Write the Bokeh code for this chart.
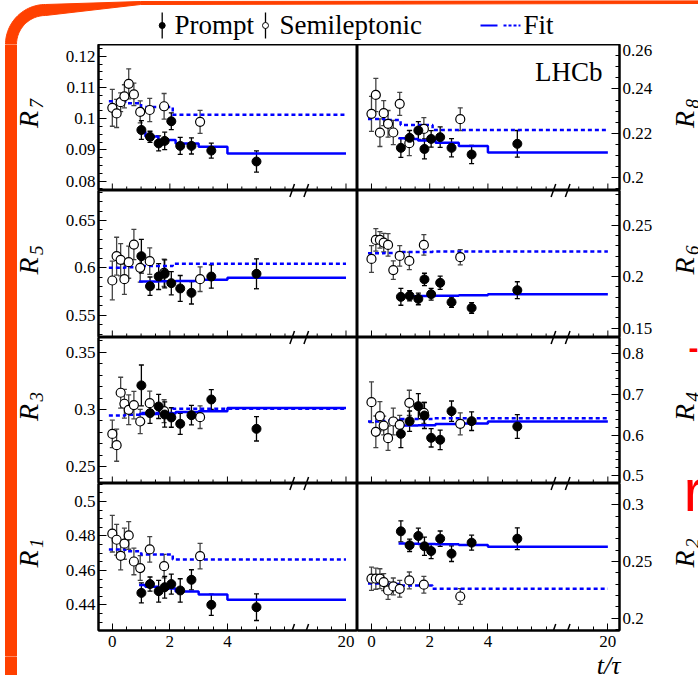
import numpy as np
from bokeh.plotting import figure
from bokeh.layouts import column, row
from bokeh.models import (Range1d, LinearAxis, FixedTicker, Whisker,
                          ColumnDataSource, TeeHead)
from bokeh.core.properties import value
from bokeh.embed import file_html
from bokeh.resources import INLINE

# ------------------------------------------------------------------ data
# x positions on the (broken) t/tau axis; "20" sits at 8.12 after the break
X_SEMI = [0.0, 0.15, 0.29, 0.42, 0.57, 0.75, 0.97, 1.30, 1.80, 3.05]
X_PROMPT = [1.01, 1.31, 1.61, 1.82, 2.05, 2.36, 2.75, 3.44, 5.01]
SEMI_FIT_EDGES = [-0.12, 0.45, 1.0, 2.1, 8.12]
PROMPT_FIT_EDGES = [0.93, 1.15, 1.6, 2.2, 3.0, 4.0, 8.12]
X_TICKS = [0, 2, 4, 8.12]
X_TICK_LABELS = ["0", "2", "4", "20"]
X_MINOR = [0.5, 1, 1.5, 2.5, 3, 3.5, 4.5, 5, 5.5, 6, 7.12, 7.62]
X_BREAKS = [6.25, 6.74]

R7_SEMI = [0.1035, 0.1017, 0.1053, 0.1072, 0.1112, 0.1078, 0.1022, 0.1028, 0.1040, 0.0990]
R7_SEMI_ERR = [0.0059, 0.0045, 0.0030, 0.0037, 0.0048, 0.0036, 0.0035, 0.0037, 0.0041, 0.0037]
R7_PROMPT = [0.0964, 0.0942, 0.0921, 0.0929, 0.0992, 0.0913, 0.0913, 0.0898, 0.0863]
R7_PROMPT_ERR = [0.0030, 0.0018, 0.0024, 0.0028, 0.0027, 0.0027, 0.0026, 0.0024, 0.0034]
R7_SEMI_FIT = [0.1056, 0.1050, 0.1038, 0.1013]
R7_PROMPT_FIT = [0.0958, 0.0943, 0.0932, 0.0921, 0.0910, 0.0889]

R8_SEMI = [0.2288, 0.2373, 0.2203, 0.2291, 0.2243, 0.2204, 0.2333, 0.2156, 0.2220, 0.2264]
R8_SEMI_ERR = [0.0079, 0.0075, 0.0062, 0.0056, 0.0060, 0.0055, 0.0052, 0.0056, 0.0051, 0.0051]
R8_PROMPT = [0.2135, 0.2180, 0.2213, 0.2130, 0.2175, 0.2183, 0.2135, 0.2105, 0.2153]
R8_PROMPT_ERR = [0.0043, 0.0034, 0.0040, 0.0045, 0.0037, 0.0046, 0.0041, 0.0041, 0.0060]
R8_SEMI_FIT = [0.2265, 0.2260, 0.2238, 0.2215]
R8_PROMPT_FIT = [0.2178, 0.2175, 0.2168, 0.2158, 0.2143, 0.2114]

R5_SEMI = [0.5866, 0.6123, 0.6085, 0.5880, 0.6060, 0.6246, 0.6000, 0.6070, 0.5947, 0.5880]
R5_SEMI_ERR = [0.0204, 0.0200, 0.0170, 0.0160, 0.0170, 0.0160, 0.0150, 0.0140, 0.0144, 0.0130]
R5_PROMPT = [0.6123, 0.5806, 0.5908, 0.5937, 0.5838, 0.5782, 0.5736, 0.5908, 0.5937]
R5_PROMPT_ERR = [0.0178, 0.0097, 0.0137, 0.0148, 0.0123, 0.0137, 0.0118, 0.0123, 0.0158]
R5_SEMI_FIT = [0.6000, 0.6005, 0.6020, 0.6042]
R5_PROMPT_FIT = [0.5856, 0.5856, 0.5858, 0.5862, 0.5873, 0.5894]

R6_SEMI = [0.2173, 0.2359, 0.2359, 0.2333, 0.2310, 0.2065, 0.2203, 0.2154, 0.2310, 0.2190]
R6_SEMI_ERR = [0.0130, 0.0110, 0.0080, 0.0090, 0.0110, 0.0090, 0.0100, 0.0085, 0.0100, 0.0074]
R6_PROMPT = [0.1804, 0.1814, 0.1784, 0.1974, 0.1830, 0.1941, 0.1752, 0.1696, 0.1869]
R6_PROMPT_ERR = [0.0082, 0.0050, 0.0057, 0.0060, 0.0057, 0.0065, 0.0050, 0.0052, 0.0082]
R6_SEMI_FIT = [0.2229, 0.2232, 0.2242, 0.2245]
R6_PROMPT_FIT = [0.1810, 0.1810, 0.1812, 0.1815, 0.1820, 0.1830]

R3_SEMI = [0.2787, 0.2688, 0.3146, 0.3050, 0.2997, 0.3038, 0.2895, 0.3055, 0.2985, 0.2933]
R3_SEMI_ERR = [0.0120, 0.0140, 0.0135, 0.0125, 0.0130, 0.0120, 0.0106, 0.0105, 0.0100, 0.0099]
R3_PROMPT = [0.3210, 0.2968, 0.3026, 0.2956, 0.2930, 0.2875, 0.2950, 0.3087, 0.2831]
R3_PROMPT_ERR = [0.0178, 0.0090, 0.0105, 0.0110, 0.0085, 0.0092, 0.0085, 0.0087, 0.0106]
R3_SEMI_FIT = [0.2948, 0.2955, 0.2970, 0.3006]
R3_PROMPT_FIT = [0.2960, 0.2960, 0.2965, 0.2977, 0.2985, 0.3012]

R4_SEMI = [0.6814, 0.6085, 0.6470, 0.6240, 0.5929, 0.6340, 0.6258, 0.6798, 0.6550, 0.6282]
R4_SEMI_ERR = [0.050, 0.039, 0.036, 0.023, 0.030, 0.033, 0.023, 0.031, 0.026, 0.027]
R4_PROMPT = [0.6036, 0.6348, 0.6717, 0.6487, 0.5938, 0.5889, 0.6593, 0.6348, 0.6217]
R4_PROMPT_ERR = [0.034, 0.025, 0.031, 0.032, 0.0225, 0.024, 0.025, 0.023, 0.029]
R4_SEMI_FIT = [0.634, 0.636, 0.640, 0.642]
R4_PROMPT_FIT = [0.624, 0.624, 0.625, 0.628, 0.629, 0.634]

R1_SEMI = [0.4813, 0.4778, 0.4685, 0.4755, 0.4803, 0.4652, 0.4614, 0.4722, 0.4625, 0.4683]
R1_SEMI_ERR = [0.0106, 0.0089, 0.0082, 0.0090, 0.0080, 0.0077, 0.0072, 0.0074, 0.0068, 0.0074]
R1_PROMPT = [0.4470, 0.4521, 0.4480, 0.4503, 0.4521, 0.4484, 0.4546, 0.4401, 0.4387]
R1_PROMPT_ERR = [0.0058, 0.0041, 0.0063, 0.0063, 0.0058, 0.0068, 0.0058, 0.0061, 0.0077]
R1_SEMI_FIT = [0.4722, 0.4712, 0.4693, 0.4664]
R1_PROMPT_FIT = [0.4515, 0.4505, 0.4495, 0.4478, 0.4461, 0.4430]

R2_SEMI = [0.2347, 0.2347, 0.2347, 0.2317, 0.2243, 0.2279, 0.2258, 0.2332, 0.2294, 0.2190]
R2_SEMI_ERR = [0.0103, 0.0093, 0.0088, 0.0074, 0.0078, 0.0074, 0.0074, 0.0074, 0.0074, 0.0069]
R2_PROMPT = [0.2765, 0.2642, 0.2724, 0.2633, 0.2591, 0.2700, 0.2568, 0.2665, 0.2700]
R2_PROMPT_ERR = [0.0093, 0.0055, 0.0069, 0.0081, 0.0066, 0.0068, 0.0069, 0.0066, 0.0096]
R2_SEMI_FIT = [0.2305, 0.2300, 0.2288, 0.2258]
R2_PROMPT_FIT = [0.2658, 0.2656, 0.2654, 0.2650, 0.2645, 0.2630]

# y axes: range, tick labels, minor step
R7_Y = (0.0770, 0.1238); R7_TICKS = ["0.08", "0.09", "0.1", "0.11", "0.12"]; R7_MINOR = 0.0025
R8_Y = (0.1943, 0.2600); R8_TICKS = ["0.2", "0.22", "0.24", "0.26"]; R8_MINOR = 0.005
R5_Y = (0.5264, 0.6817); R5_TICKS = ["0.55", "0.6", "0.65"]; R5_MINOR = 0.01
R6_Y = (0.1408, 0.2840); R6_TICKS = ["0.15", "0.2", "0.25"]; R6_MINOR = 0.01
R3_Y = (0.2354, 0.3628); R3_TICKS = ["0.25", "0.3", "0.35"]; R3_MINOR = 0.01
R4_Y = (0.4815, 0.8405); R4_TICKS = ["0.5", "0.6", "0.7", "0.8"]; R4_MINOR = 0.02
R1_Y = (0.4252, 0.5104); R1_TICKS = ["0.44", "0.46", "0.48", "0.5"]; R1_MINOR = 0.005
R2_Y = (0.1890, 0.3187); R2_TICKS = ["0.2", "0.25", "0.3"]; R2_MINOR = 0.01

LEFT_NAMES = ["7", "5", "3", "1"]
RIGHT_NAMES = ["8", "6", "4", "2"]

# ------------------------------------------------------------------ style / layout
SERIF = "Liberation Serif"
BLUE = "#0000ff"
ORANGE = "#ff4000"
PAGE_W, PAGE_H = 698, 675
HEAD_H, FOOT_H = 44, 19
FRAME_H = [146, 147, 146, 147]
BOTTOM_BORDER = 26
LSTRIP_W, RSTRIP_W = 55, 43
LBORDER, RBORDER = 43, 36
LFRAME_W, RFRAME_W = 259, 262
MID_H = PAGE_H - HEAD_H - FOOT_H


def py(y):
    """page pixel row -> strip/header/footer data y (upwards)"""
    return PAGE_H - y


def minor_list(lo, hi, step):
    k0 = int(np.ceil(lo / step - 1e-9))
    k1 = int(np.floor(hi / step + 1e-9))
    return [round(k * step, 6) for k in range(k0, k1 + 1)]


def no_grid(p):
    p.xgrid.visible = False
    p.ygrid.visible = False


def deco_fig(w, h, x0, y0):
    p = figure(frame_width=w, frame_height=h,
               x_range=Range1d(x0, x0 + w), y_range=Range1d(y0, y0 + h),
               x_axis_location=None, y_axis_location=None, toolbar_location=None,
               output_backend="svg", min_border=0, outline_line_color=None,
               background_fill_color="white", border_fill_color="white")
    no_grid(p)
    return p


def panel(semi, semi_err, prompt, prompt_err, semi_fit, prompt_fit,
          yr, ticks, minor, side, rowi):
    left = side == "left"
    bottom = rowi == 3
    fw = LFRAME_W if left else RFRAME_W
    fh = FRAME_H[rowi]
    lo, hi = yr
    p = figure(frame_width=fw, frame_height=fh,
               x_range=Range1d(-0.48, 8.52), y_range=Range1d(lo, hi),
               x_axis_location=None, y_axis_location=None,
               toolbar_location=None, output_backend="svg",
               min_border_left=LBORDER if left else 0,
               min_border_right=0 if left else RBORDER,
               min_border_top=0, min_border_bottom=BOTTOM_BORDER if bottom else 0,
               outline_line_color="black", outline_line_width=2,
               background_fill_color="white", border_fill_color="white")
    no_grid(p)

    ypx = (hi - lo) / fh
    if bottom:
        xa = LinearAxis(ticker=FixedTicker(ticks=X_TICKS, minor_ticks=X_MINOR),
                        major_label_overrides=dict(zip(X_TICKS, X_TICK_LABELS)),
                        major_tick_in=7, major_tick_out=0, minor_tick_in=4, minor_tick_out=0,
                        axis_line_width=2, major_tick_line_width=1, minor_tick_line_width=1,
                        major_label_text_font=SERIF, major_label_text_font_size="17px",
                        major_label_text_color="black", major_label_standoff=5)
        p.add_layout(xa, "below")
    else:
        # inner tick marks along the shared panel edge
        tx = list(X_TICKS) + list(X_MINOR)
        tl = [7] * len(X_TICKS) + [4] * len(X_MINOR)
        p.segment(tx, [lo] * len(tx), tx, [lo + l * ypx for l in tl],
                  line_color="black", line_width=1)

    tvals = [float(t) for t in ticks]
    ya = LinearAxis(ticker=FixedTicker(ticks=tvals, minor_ticks=minor_list(lo, hi, minor)),
                    major_label_overrides=dict(zip(tvals, ticks)),
                    major_tick_in=8, major_tick_out=0, minor_tick_in=4, minor_tick_out=0,
                    axis_line_width=2, major_tick_line_width=1, minor_tick_line_width=1,
                    major_label_text_font=SERIF, major_label_text_font_size="17px",
                    major_label_text_color="black", major_label_standoff=3)
    p.add_layout(ya, side)

    # fit steps
    p.step(SEMI_FIT_EDGES, list(semi_fit) + [semi_fit[-1]], mode="after",
           line_color=BLUE, line_width=2.5, line_dash="4 3")
    p.step(PROMPT_FIT_EDGES, list(prompt_fit) + [prompt_fit[-1]], mode="after",
           line_color=BLUE, line_width=2.5)

    # data
    ss = ColumnDataSource(dict(x=X_SEMI, y=semi,
                               lo=[v - e for v, e in zip(semi, semi_err)],
                               hi=[v + e for v, e in zip(semi, semi_err)]))
    ps = ColumnDataSource(dict(x=X_PROMPT, y=prompt,
                               lo=[v - e for v, e in zip(prompt, prompt_err)],
                               hi=[v + e for v, e in zip(prompt, prompt_err)]))
    for src, col in ((ss, "#444444"), (ps, "black")):
        p.add_layout(Whisker(source=src, base="x", upper="hi", lower="lo",
                             line_color=col, line_width=1.3,
                             upper_head=TeeHead(size=5, line_color=col, line_width=1.3),
                             lower_head=TeeHead(size=5, line_color=col, line_width=1.3)))
    p.scatter("x", "y", source=ss, size=9, fill_color="white", line_color="black",
              line_width=1.2)
    p.scatter("x", "y", source=ps, size=9, fill_color="black", line_color="black")

    # axis-break marks
    dy = 6.5 * ypx
    edges = [lo] + ([hi] if rowi > 0 else [])
    bx0, by0, bx1, by1 = [], [], [], []
    for e in edges:
        for b in X_BREAKS:
            bx0.append(b - 0.08); by0.append(e - dy)
            bx1.append(b + 0.08); by1.append(e + dy)
    p.segment(bx0, by0, bx1, by1, line_color="black", line_width=1.5)
    return p


L7 = panel(R7_SEMI, R7_SEMI_ERR, R7_PROMPT, R7_PROMPT_ERR, R7_SEMI_FIT, R7_PROMPT_FIT,
           R7_Y, R7_TICKS, R7_MINOR, "left", 0)
R8 = panel(R8_SEMI, R8_SEMI_ERR, R8_PROMPT, R8_PROMPT_ERR, R8_SEMI_FIT, R8_PROMPT_FIT,
           R8_Y, R8_TICKS, R8_MINOR, "right", 0)
L5 = panel(R5_SEMI, R5_SEMI_ERR, R5_PROMPT, R5_PROMPT_ERR, R5_SEMI_FIT, R5_PROMPT_FIT,
           R5_Y, R5_TICKS, R5_MINOR, "left", 1)
R6 = panel(R6_SEMI, R6_SEMI_ERR, R6_PROMPT, R6_PROMPT_ERR, R6_SEMI_FIT, R6_PROMPT_FIT,
           R6_Y, R6_TICKS, R6_MINOR, "right", 1)
L3 = panel(R3_SEMI, R3_SEMI_ERR, R3_PROMPT, R3_PROMPT_ERR, R3_SEMI_FIT, R3_PROMPT_FIT,
           R3_Y, R3_TICKS, R3_MINOR, "left", 2)
R4 = panel(R4_SEMI, R4_SEMI_ERR, R4_PROMPT, R4_PROMPT_ERR, R4_SEMI_FIT, R4_PROMPT_FIT,
           R4_Y, R4_TICKS, R4_MINOR, "right", 2)
L1 = panel(R1_SEMI, R1_SEMI_ERR, R1_PROMPT, R1_PROMPT_ERR, R1_SEMI_FIT, R1_PROMPT_FIT,
           R1_Y, R1_TICKS, R1_MINOR, "left", 3)
R2 = panel(R2_SEMI, R2_SEMI_ERR, R2_PROMPT, R2_PROMPT_ERR, R2_SEMI_FIT, R2_PROMPT_FIT,
           R2_Y, R2_TICKS, R2_MINOR, "right", 3)

# LHCb tag inside the top-right frame (page-pixel placement converted to data)
_lo, _hi = R8_Y
R8.text([8.52 - (620 - 603) / RFRAME_W * 9.0], [_lo + (190 - 71) / FRAME_H[0] * (_hi - _lo)],
        text=["LHCb"], text_font=value(SERIF), text_font_size="27px",
        text_align="right", text_baseline="middle", text_color="black")

# panel vertical centres in page pixels
centres = []
_top = HEAD_H
for h in FRAME_H:
    centres.append(_top + h / 2)
    _top += h

# ------------------------------------------------------------------ header (legend + slide frame)
H = deco_fig(PAGE_W, HEAD_H, 0, PAGE_H - HEAD_H)
th_o = np.linspace(np.pi, 1.5 * np.pi, 30)
th_i = th_o[::-1]
ox = list(5 + 40 * (1 + np.cos(th_o)))
oy = list(44 + 40 * np.sin(th_o))
ix = list(16 + 29 * (1 + np.cos(th_i)))
iy = list(44 + 29 * np.sin(th_i))
xs = [5] + ox + [140, 698, 698, 140] + ix + [16]
ys = [44] + oy + [1, 0, 3, 4] + iy + [44]
H.patch(xs, [py(v) for v in ys], fill_color=ORANGE, line_color=ORANGE)

H.segment([161.7], [py(12)], [161.7], [py(38)], line_color="black", line_width=1.3)
H.scatter([161.7], [py(25)], size=6, fill_color="black", line_color="black")
H.segment([265], [py(12)], [265], [py(38)], line_color="black", line_width=1.3)
H.scatter([265], [py(25)], size=6, fill_color="white", line_color="black")
H.segment([480], [py(25)], [497], [py(25)], line_color=BLUE, line_width=2)
H.segment([503], [py(25)], [520], [py(25)], line_color=BLUE, line_width=2, line_dash="3 2")
H.text([174, 279, 523], [py(24)] * 3, text=["Prompt", "Semileptonic", "Fit"],
       text_font=value(SERIF), text_font_size="27px", text_baseline="middle",
       text_align="left", text_color="black")

# ------------------------------------------------------------------ side strips
LS = deco_fig(LSTRIP_W, MID_H, 0, FOOT_H)
LS.quad(left=[5], right=[16], top=[py(HEAD_H)], bottom=[py(HEAD_H + MID_H)], color=ORANGE)
RS = deco_fig(RSTRIP_W, MID_H, PAGE_W - RSTRIP_W, FOOT_H)


def r_title(p, xc, yc, digit):
    p.text([xc], [py(yc)], text=["R"], angle=np.pi / 2, text_font=value(SERIF),
           text_font_style="italic", text_font_size="28px", text_align="center",
           text_baseline="middle", text_color="black")
    p.text([xc + 8], [py(yc) + 11], text=[digit], angle=np.pi / 2, text_font=value(SERIF),
           text_font_style="italic", text_font_size="19px", text_align="left",
           text_baseline="middle", text_color="black")


for c, d in zip(centres, LEFT_NAMES):
    r_title(LS, 28, c + 2, d)
for c, d in zip(centres, RIGHT_NAMES):
    r_title(RS, 684, c + 2, d)

# fragments of the slide text that peek in at the right edge
RS.text([693], [py(347)], text=["-"], text_font=value("Liberation Sans"),
        text_font_style="bold", text_font_size="30px", text_color="red",
        text_align="center", text_baseline="middle")
RS.text([683], [py(490)], text=["r"], text_font=value("Liberation Sans"),
        text_font_size="60px", text_color="red", text_align="left",
        text_baseline="middle")

# ------------------------------------------------------------------ footer
F = deco_fig(PAGE_W, FOOT_H, 0, 0)
F.quad(left=[5], right=[16], top=[FOOT_H], bottom=[0], color=ORANGE)
F.text([620], [py(665)], text=["t/\u03c4"], text_font=value(SERIF),
       text_font_style="italic", text_font_size="26px", text_align="right",
       text_baseline="middle", text_color="black")

layout = column(H,
                row(LS, column(L7, L5, L3, L1), column(R8, R6, R4, R2), RS),
                F)
open("out.html", "w").write(file_html(layout, INLINE))
